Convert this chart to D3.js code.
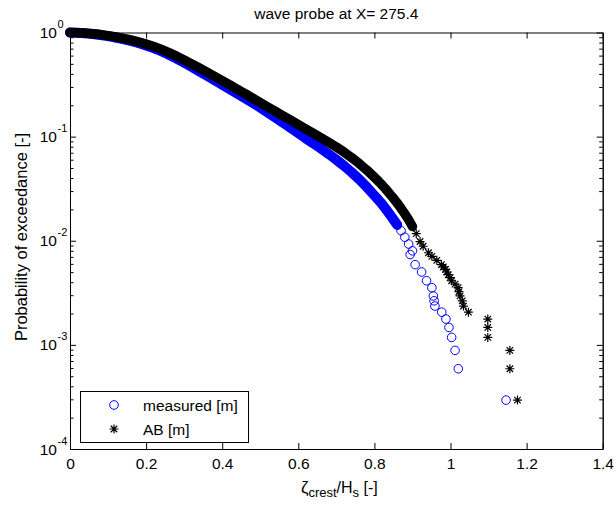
<!DOCTYPE html>
<html><head><meta charset="utf-8">
<script src="https://cdn.jsdelivr.net/npm/d3@7"></script>
<style>
body{margin:0;background:#fff;}
svg{display:block;font-family:"Liberation Sans",Arial,Helvetica,sans-serif;}
</style></head>
<body><svg id="c" width="616" height="505"></svg>
<script>
// ---- data ----
const titleText = "wave probe at X= 275.4";
const xTickValues = [0, 0.2, 0.4, 0.6, 0.8, 1, 1.2, 1.4];
const xTickLabels = ["0", "0.2", "0.4", "0.6", "0.8", "1", "1.2", "1.4"];
const yTickValues = [1, 0.1, 0.01, 0.001, 0.0001];
const yTickExponents = ["0", "-1", "-2", "-3", "-4"];
const seriesNames = ["measured [m]", "AB [m]"];

// measured: body readings and resolved tail points
const measuredBodyX = [0,0.02,0.04,0.06,0.08,0.10,0.12,0.14,0.16,0.18,0.20,0.22,0.24,0.26,0.28,0.30,0.32,0.34,0.36,0.38,0.40,0.42,0.44,0.46,0.48,0.50,0.52,0.54,0.56,0.58,0.60,0.62,0.64,0.66,0.68,0.70,0.72,0.74,0.76,0.78,0.80,0.81,0.82,0.83,0.84,0.85,0.86,0.87,0.88,0.89,0.90];
const measuredBodyP = [1.000,0.993,0.982,0.966,0.946,0.923,0.895,0.865,0.830,0.792,0.751,0.708,0.661,0.612,0.562,0.513,0.467,0.424,0.385,0.349,0.316,0.286,0.259,0.234,0.211,0.190,0.170,0.152,0.136,0.121,0.108,0.0960,0.0860,0.0765,0.0680,0.0600,0.0525,0.0455,0.0390,0.0328,0.0272,0.0248,0.0225,0.0202,0.0180,0.0160,0.0142,0.0125,0.0108,0.0093,0.0080];
const measuredTailX = [0.894,0.907,0.924,0.937,0.951,0.955,0.957,0.959,0.977,0.988,0.996,1.003,1.012,1.0205,1.146];
const measuredTailP = [7.37e-3,5.90e-3,5.01e-3,4.13e-3,3.54e-3,2.95e-3,2.65e-3,2.36e-3,2.06e-3,1.77e-3,1.47e-3,1.18e-3,8.85e-4,5.90e-4,2.95e-4];

// AB: body readings and resolved tail points
const abBodyX = [0,0.02,0.04,0.06,0.08,0.10,0.12,0.14,0.16,0.18,0.20,0.22,0.24,0.26,0.28,0.30,0.32,0.34,0.36,0.38,0.40,0.42,0.44,0.46,0.48,0.50,0.52,0.54,0.56,0.58,0.60,0.62,0.64,0.66,0.68,0.70,0.72,0.74,0.76,0.78,0.80,0.81,0.82,0.83,0.84,0.85,0.86,0.87,0.88,0.89,0.90,0.91,0.92];
const abBodyP = [1.000,0.995,0.986,0.973,0.955,0.933,0.908,0.879,0.847,0.813,0.776,0.735,0.689,0.641,0.593,0.545,0.499,0.456,0.416,0.379,0.345,0.314,0.285,0.259,0.234,0.212,0.1925,0.1746,0.1584,0.1437,0.1304,0.1183,0.1073,0.0974,0.0882,0.0796,0.0711,0.0630,0.0551,0.0478,0.0407,0.0375,0.0343,0.0313,0.0283,0.0256,0.0230,0.0205,0.0181,0.0159,0.0137,0.0117,0.00983];
const abTailX = [0.928,0.942,0.951,0.964,0.976,0.981,0.987,0.990,0.994,0.999,1.003,1.012,1.020,1.022,1.025,1.031,1.034,1.047,1.098,1.098,1.098,1.156,1.156,1.176];
const abTailP = [8.85e-3,7.67e-3,7.08e-3,6.49e-3,5.90e-3,5.60e-3,5.31e-3,5.01e-3,4.72e-3,4.42e-3,4.13e-3,3.83e-3,3.54e-3,3.24e-3,2.95e-3,2.65e-3,2.36e-3,2.06e-3,1.77e-3,1.47e-3,1.18e-3,8.85e-4,5.90e-4,2.95e-4];

// ---- drawing ----
const svg = d3.select("#c");
const L = 70, R = 602.7, T = 32.5, B = 449;
const x = d3.scaleLinear().domain([0, 1.4]).range([L, R]);
const y = d3.scaleLog().domain([1e-4, 1]).range([B, T]);
const blue = "#0000ff";
const FONT = '"Liberation Sans",Arial,sans-serif';

const zip = (xs, ps) => xs.map((v, i) => [v, ps[i]]);
const mBody = zip(measuredBodyX, measuredBodyP), mTail = zip(measuredTailX, measuredTailP);
const aBody = zip(abBodyX, abBodyP), aTail = zip(abTailX, abTailP);

// minor tick values
const minor = [];
for (let e = -4; e < 0; e++) for (let k = 2; k <= 9; k++) minor.push(k * Math.pow(10, e));

const ax = svg.append("g");
ax.append("g").attr("transform", `translate(0,${B})`)
  .call(d3.axisBottom(x).tickValues(xTickValues).tickSize(-6).tickSizeOuter(0).tickPadding(9)
    .tickFormat((d, i) => xTickLabels[i]));
ax.append("g").attr("transform", `translate(0,${T})`)
  .call(d3.axisTop(x).tickValues(xTickValues).tickSize(-6).tickSizeOuter(0).tickFormat(""));
ax.append("g").attr("transform", `translate(${L},0)`)
  .call(d3.axisLeft(y).tickValues(yTickValues).tickSize(-6).tickSizeOuter(0).tickFormat(""));
ax.append("g").attr("transform", `translate(${L},0)`)
  .call(d3.axisLeft(y).tickValues(minor).tickSize(-3.5).tickSizeOuter(0).tickFormat(""));
ax.append("g").attr("transform", `translate(${R},0)`)
  .call(d3.axisRight(y).tickValues(yTickValues).tickSize(-6).tickSizeOuter(0).tickFormat(""));
ax.append("g").attr("transform", `translate(${R},0)`)
  .call(d3.axisRight(y).tickValues(minor).tickSize(-3.5).tickSizeOuter(0).tickFormat(""));
ax.selectAll("path.domain").attr("stroke", "#000").attr("stroke-width", 1);
ax.selectAll(".tick line").attr("stroke", "#000");
ax.selectAll(".tick text").attr("font-size", 15.5).attr("fill", "#000").attr("font-family", FONT);

// y tick labels 10^e
yTickValues.forEach((v, i) => {
  svg.append("text").attr("x", 57).attr("y", y(v) + 5.5).attr("text-anchor", "end")
    .attr("font-size", 15.5).attr("fill", "#000").text("10");
  svg.append("text").attr("x", 57.5).attr("y", y(v) - 4.5).attr("font-size", 11).attr("fill", "#000")
    .text(yTickExponents[i]);
});

// star marker path
function star(s) {
  const d = s * 0.72;
  return `M${-s},0L${s},0M0,${-s}L0,${s}M${-d},${-d}L${d},${d}M${-d},${d}L${d},${-d}`;
}
const line = d3.line().x(d => x(d[0])).y(d => y(d[1]));

// measured series: overlapping markers of the dense body shown as a band
const gm = svg.append("g");
gm.append("path").attr("d", line(mBody.filter(d => d[0] <= 0.86))).attr("fill", "none").attr("stroke", blue)
  .attr("stroke-width", 10).attr("stroke-linecap", "round").attr("stroke-linejoin", "round");
gm.selectAll("circle").data(mBody.concat(mTail)).join("circle")
  .attr("cx", d => x(d[0])).attr("cy", d => y(d[1])).attr("r", 4.3)
  .attr("fill", "none").attr("stroke", blue).attr("stroke-width", 1);

// AB series
const ga = svg.append("g");
ga.append("path").attr("d", line(aBody.filter(d => d[0] <= 0.90))).attr("fill", "none").attr("stroke", "#000")
  .attr("stroke-width", 9.5).attr("stroke-linecap", "round").attr("stroke-linejoin", "round");
ga.selectAll("path.star").data(aBody.concat(aTail)).join("path").attr("class", "star")
  .attr("transform", d => `translate(${x(d[0])},${y(d[1])})`)
  .attr("d", star(4.5)).attr("fill", "none").attr("stroke", "#000").attr("stroke-width", 1.2);

// title
svg.append("text").attr("x", (L + R) / 2).attr("y", 19).attr("text-anchor", "middle")
  .attr("font-size", 15.5).attr("fill", "#000").text(titleText);

// y label
svg.append("text").attr("transform", `translate(27,237) rotate(-90)`)
  .attr("text-anchor", "middle").attr("font-size", 16.5).attr("fill", "#000")
  .text("Probability of exceedance [-]");

// x label  ζ_crest / H_s [-]
const xl = svg.append("text").attr("x", (L + R) / 2 + 3).attr("y", 493).attr("text-anchor", "middle")
  .attr("font-size", 16).attr("fill", "#000");
xl.append("tspan").attr("font-size", 17).text("ζ");
xl.append("tspan").attr("font-size", 13).attr("dy", 4).text("crest");
xl.append("tspan").attr("dy", -4).text("/H");
xl.append("tspan").attr("font-size", 13).attr("dy", 4).text("s");
xl.append("tspan").attr("dy", -4).text(" [-]");

// legend
const lg = svg.append("g");
lg.append("rect").attr("x", 80.5).attr("y", 391.5).attr("width", 168).attr("height", 51)
  .attr("fill", "#fff").attr("stroke", "#000").attr("stroke-width", 1);
lg.append("circle").attr("cx", 114).attr("cy", 405).attr("r", 4.3)
  .attr("fill", "none").attr("stroke", blue).attr("stroke-width", 1);
lg.append("path").attr("transform", "translate(114,429)").attr("d", star(4.5))
  .attr("fill", "none").attr("stroke", "#000").attr("stroke-width", 1.2);
lg.append("text").attr("x", 143).attr("y", 410.5).attr("font-size", 15.5).attr("fill", "#000").text(seriesNames[0]);
lg.append("text").attr("x", 143).attr("y", 434.5).attr("font-size", 15.5).attr("fill", "#000").text(seriesNames[1]);
</script></body></html>
